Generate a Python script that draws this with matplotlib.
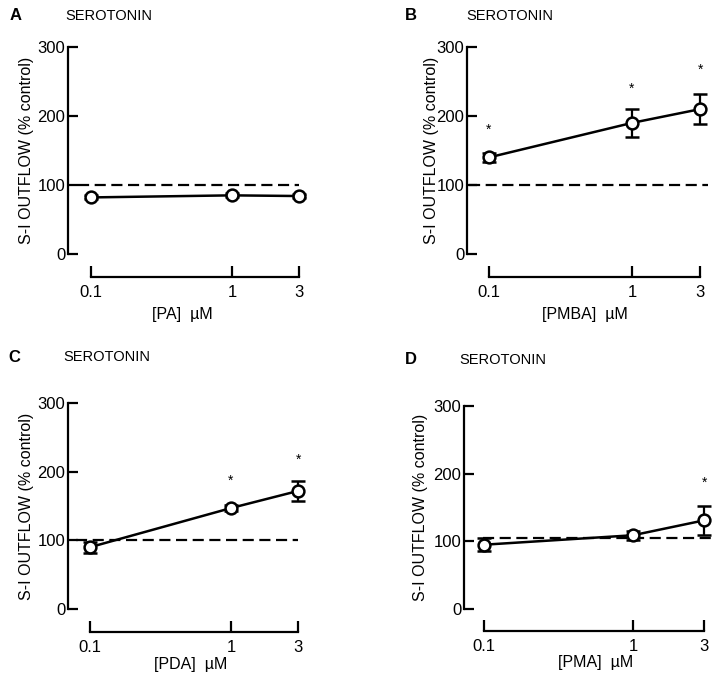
import matplotlib
matplotlib.use("Agg")
import matplotlib.pyplot as plt
import numpy as np

plt.rcParams['font.family'] = ['Liberation Sans', 'DejaVu Sans']

W, H = 721, 679
DPI = 100

conc = [0.1, 1, 3]
x_tick_labels = ["0.1", "1", "3"]
y_ticks = [0, 100, 200, 300]

panel_letters = ["A", "B", "C", "D"]
drug_labels = ["[PA]  \u00b5M", "[PMBA]  \u00b5M", "[PDA]  \u00b5M", "[PMA]  \u00b5M"]
title = "SEROTONIN"
ylabel = "S-I OUTFLOW (% control)"

mean_A = [82, 85, 84]
err_A = [3, 3, 3]
mean_B = [140, 190, 210]
err_B = [7, 20, 22]
mean_C = [90, 147, 172]
err_C = [8, 4, 14]
mean_D = [95, 109, 131]
err_D = [10, 7, 21]

control_level = [100, 100, 100, 105]

star_A = [None, None, None]
star_B = [180, 239, 267]
star_C = [None, 186, 217]
star_D = [None, None, 186]

means = [mean_A, mean_B, mean_C, mean_D]
errs = [err_A, err_B, err_C, err_D]
stars = [star_A, star_B, star_C, star_D]

# layout in pixels
layout = [
    dict(sx=68, p01=91, p1=232, y0=254, y300=47, xl=277, dash=(0.081, 3.0),
         lab=(182, 315), let=(10, 16), tit=(65, 16), yl=27),
    dict(sx=467, p01=489, p1=632, y0=254, y300=47, xl=277, dash=(0.072, 3.4),
         lab=(585, 315), let=(405, 16), tit=(466, 16), yl=431),
    dict(sx=68, p01=90, p1=231, y0=609, y300=403, xl=632, dash=(0.080, 3.0),
         lab=(191, 664), let=(8, 357), tit=(63, 357), yl=27),
    dict(sx=464, p01=484, p1=633, y0=609, y300=406, xl=631, dash=(0.098, 3.55),
         lab=(596, 663), let=(405, 360), tit=(459, 360), yl=420),
]

fig = plt.figure(figsize=(W / DPI, H / DPI), dpi=DPI)
fig.patch.set_facecolor('white')

for i in range(4):
    L = layout[i]
    left, right = L['sx'], L['sx'] + 252
    top, bottom = L['y300'] - 30, L['xl'] + 1
    ax = fig.add_axes([left / W, 1 - bottom / H, (right - left) / W, (bottom - top) / H])
    ax.set_xscale('log')
    s = L['p1'] - L['p01']
    ax.set_xlim(10 ** (-1 - (L['p01'] - left) / s), 10 ** ((right - L['p1']) / s))
    sy = (L['y0'] - L['y300']) / 300.0
    ax.set_ylim((L['y0'] - bottom) / sy, (L['y0'] - top) / sy)
    xline_val = (L['y0'] - L['xl']) / sy

    for sp in ['top', 'right']:
        ax.spines[sp].set_visible(False)
    ax.spines['left'].set_bounds(0, 300)
    ax.spines['bottom'].set_position(('data', xline_val))
    ax.spines['bottom'].set_bounds(0.1, 3)
    for sp in ['left', 'bottom']:
        ax.spines[sp].set_linewidth(1.6)
    ax.patch.set_alpha(0)

    ax.set_xticks(conc)
    ax.set_xticklabels(x_tick_labels)
    ax.xaxis.set_minor_locator(matplotlib.ticker.NullLocator())
    ax.set_yticks(y_ticks)
    ax.tick_params(axis='x', direction='in', length=8, width=1.6, pad=6, labelsize=12)
    ax.tick_params(axis='y', direction='in', length=7, width=1.6, pad=2, labelsize=12)

    ax.hlines(control_level[i], L['dash'][0], L['dash'][1], colors='black',
              linestyles=(0, (5, 2.5)), linewidth=1.6, zorder=1)

    ax.errorbar(conc, means[i], yerr=errs[i], fmt='-o', color='black', lw=1.8,
                elinewidth=1.6, capsize=5, capthick=1.6, markersize=8.5,
                markerfacecolor='white', markeredgecolor='black', markeredgewidth=1.8,
                zorder=3, clip_on=False)

    for x, sv in zip(conc, stars[i]):
        if sv is not None:
            ax.text(x, sv, "*", ha='center', va='center', fontsize=10, clip_on=False)

    ax.set_ylabel(ylabel, fontsize=11.5)
    ax.yaxis.set_label_coords((L['yl'] - left) / (right - left),
                              ((bottom - (L['y0'] + L['y300']) / 2) / (bottom - top)))
    ax.yaxis.label.set_va('center')
    ax.set_xlabel(drug_labels[i], fontsize=11.5)
    ax.xaxis.set_label_coords((L['lab'][0] - left) / (right - left),
                              (bottom - L['lab'][1]) / (bottom - top))
    ax.xaxis.label.set_va('center')

    fig.text(L['let'][0] / W, 1 - L['let'][1] / H, panel_letters[i], fontsize=12,
             fontweight='bold', ha='left', va='center')
    fig.text(L['tit'][0] / W, 1 - L['tit'][1] / H, title, fontsize=10.5,
             ha='left', va='center')

fig.savefig("out.png", dpi=DPI, facecolor='white')
